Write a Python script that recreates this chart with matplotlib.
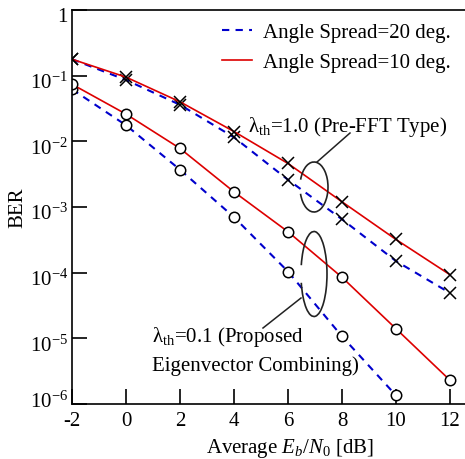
import math
import matplotlib
matplotlib.use("Agg")
import matplotlib.pyplot as plt
from matplotlib.patches import Arc
from matplotlib.lines import Line2D
from matplotlib.ticker import FixedLocator, FuncFormatter
from matplotlib.transforms import ScaledTranslation

plt.rcParams['font.family'] = ['Liberation Serif', 'DejaVu Serif']
plt.rcParams['mathtext.fontset'] = 'custom'
plt.rcParams['mathtext.rm'] = 'Liberation Serif'
plt.rcParams['mathtext.it'] = 'Liberation Serif:italic'
plt.rcParams['mathtext.bf'] = 'Liberation Serif:bold'

# ---- data ----
ebn0 = [-2, 0, 2, 4, 6, 8, 10, 12]
ber_as20_pre = [0.178, 0.086, 0.036, 0.0115, 0.0026, 6.5e-4, 1.5e-4, 4.9e-5]
ber_as10_pre = [0.178, 0.095, 0.040, 0.0141, 0.0046, 1.2e-3, 3.2e-4, 9.3e-5]
ebn0_as20_prop = [-2, 0, 2, 4, 6, 8, 10]
ber_as20_prop = [0.062, 0.0176, 0.0037, 7.0e-4, 1.04e-4, 1.07e-5, 1.35e-6]
ber_as10_prop = [0.074, 0.026, 0.0078, 0.0017, 4.2e-4, 8.5e-5, 1.4e-5, 2.3e-6]
legend_labels = ["Angle Spread=20 deg.", "Angle Spread=10 deg."]
xticks = [-2, 0, 2, 4, 6, 8, 10, 12]
yticks = [1e-6, 1e-5, 1e-4, 1e-3, 1e-2, 1e-1, 1]

W, H = 465, 459
fig = plt.figure(figsize=(W / 100, H / 100), dpi=100)
ax = fig.add_axes([72 / W, 1 - 404 / H, 1 - 72 / W, (404 - 10) / H])

def fx(px):
    return px / W

def fy(py):
    return 1 - py / H

blue = '#0000cc'
red = '#dd0000'
dash = (0, (3.5, 3))
fs = 15

l20, = ax.semilogy(ebn0, ber_as20_pre, color=blue, lw=1.5, ls=dash,
                   marker='x', ms=9, mec='k', mew=1.1)
l10, = ax.semilogy(ebn0, ber_as10_pre, color=red, lw=1.2, ls='-',
                   marker='x', ms=9, mec='k', mew=1.1)
ax.semilogy(ebn0_as20_prop, ber_as20_prop, color=blue, lw=1.5, ls=dash,
            marker='o', ms=7.5, mfc='white', mec='k', mew=1.1)
ax.semilogy(ebn0, ber_as10_prop, color=red, lw=1.2, ls='-',
            marker='o', ms=7.5, mfc='white', mec='k', mew=1.1)

ax.set_xlim(-2, -2 + (W - 72) / 27.0)
ax.set_ylim(1e-6, 1)
ax.xaxis.set_major_locator(FixedLocator(xticks))
ax.yaxis.set_major_locator(FixedLocator(yticks))
ax.yaxis.set_minor_locator(FixedLocator([]))
ax.xaxis.set_minor_locator(FixedLocator([]))

def yfmt(v, pos):
    if abs(v - 1) < 1e-9:
        return "1"
    return r"$10^{%d}$" % round(math.log10(v))

ax.yaxis.set_major_formatter(FuncFormatter(yfmt))
ax.xaxis.set_major_formatter(FuncFormatter(lambda v, p: "%d" % v))
ax.tick_params(axis='both', which='major', direction='in', length=11, width=1.2,
               labelsize=fs, top=False, right=False)
ax.tick_params(axis='x', pad=5.5)
ax.tick_params(axis='y', pad=3)
for s in ['left', 'bottom', 'top']:
    ax.spines[s].set_linewidth(1.2)
ax.spines['right'].set_visible(False)

# vertical nudges of y tick labels (in pixels, positive = down)
fig.canvas.draw()
nudges = {0: -4, 6: 5}
for i, tick in enumerate(ax.yaxis.get_major_ticks()):
    dy = nudges.get(i, 5)
    lab = tick.label1
    lab.set_transform(lab.get_transform() + ScaledTranslation(0, -dy / 100, fig.dpi_scale_trans))

fig.text(fx(18), fy(208), "BER", rotation=90, ha='center', va='center', fontsize=fs)
fig.text(fx(290), fy(448), r"Average $E_b/N_{0}$ [dB]", ha='center', va='center', fontsize=fs)

leg = ax.legend([l20, l10], legend_labels, loc='upper left',
                bbox_to_anchor=(fx(222), fy(23)), bbox_transform=fig.transFigure,
                frameon=False, fontsize=fs, borderpad=0, borderaxespad=0,
                handlelength=1.45, handletextpad=0.5, labelspacing=0.5)
for h in leg.get_lines():
    h.set_marker('')

# annotations
arc1 = Arc((fx(314), fy(187)), 28 / W, 50 / H, theta1=207, theta2=151,
           transform=fig.transFigure, color='#222222', lw=1.2)
fig.add_artist(arc1)
fig.add_artist(Line2D([fx(317), fx(350)], [fy(162), fy(133)],
                      transform=fig.transFigure, color='#222222', lw=1.1))
fig.text(fx(248), fy(127), r"λ$_{\mathrm{th}}$=1.0 (Pre-FFT Type)", ha='left',
         va='center', fontsize=fs)

arc2 = Arc((fx(314), fy(274)), 26 / W, 85 / H, theta1=215, theta2=145,
           transform=fig.transFigure, color='#222222', lw=1.2)
fig.add_artist(arc2)
fig.add_artist(Line2D([fx(301), fx(263)], [fy(298), fy(328)],
                      transform=fig.transFigure, color='#222222', lw=1.1))
fig.text(fx(152), fy(337), r"λ$_{\mathrm{th}}$=0.1 (Proposed", ha='left',
         va='center', fontsize=fs)
fig.text(fx(152), fy(366), "Eigenvector Combining)", ha='left',
         va='center', fontsize=fs)

fig.savefig("out.png", dpi=100)
